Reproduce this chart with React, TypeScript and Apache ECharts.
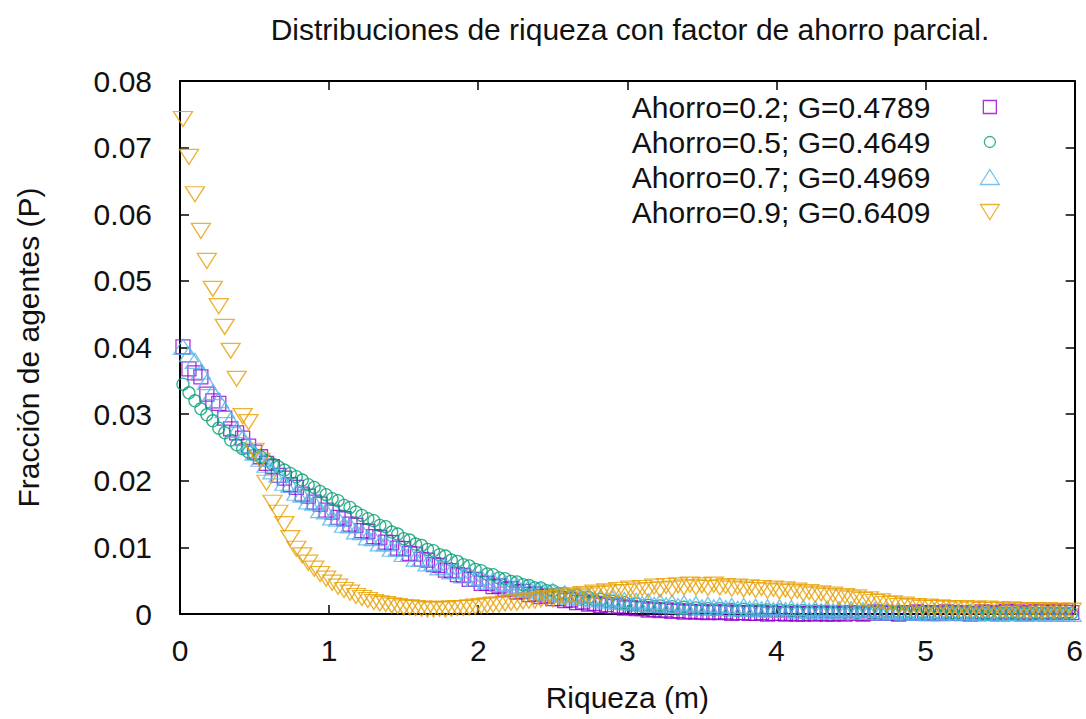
import React, { useEffect, useRef } from 'react';
import * as echarts from 'echarts';

// Bin centres: first bin centre and bin width (in units of m)
const BIN_START = 0.02;
const BIN_WIDTH = 0.04;

const seriesNames = [
  'Ahorro=0.2; G=0.4789',
  'Ahorro=0.5; G=0.4649',
  'Ahorro=0.7; G=0.4969',
  'Ahorro=0.9; G=0.6409',
];

// Fraction of agents (P), in units of 1e-4, one value per bin
const ahorro02 = [
  401, 368, 362, 356, 330, 320, 316, 294, 278, 272,
  264, 252, 243, 236, 226, 221, 208, 204, 194, 190,
  180, 177, 168, 165, 156, 153, 145, 143, 135, 133,
  125, 124, 116, 115, 108, 107, 99, 98, 91, 90,
  82, 81, 74, 73, 66, 65, 59, 58, 52, 52,
  46, 46, 41, 42, 37, 38, 33, 34, 29, 30,
  26, 27, 23, 23, 20, 21, 17, 18, 15, 16,
  13, 14, 11, 12, 9, 10, 8, 8, 6, 7,
  5, 6, 4, 5, 3, 4, 3, 3, 2, 3,
  2, 3, 1, 2, 2, 1, 1, 2, 0, 1,
  1, 0, 1, 0, 0, 1, 0, 1, 0, 0,
  1, 0, 2, 1, 0, 1, 3, 1, 2, 1,
  0, 2, 1, 3, 2, 1, 2, 1, 3, 2,
  1, 2, 0, 1, 3, 2, 1, 2, 4, 2,
  3, 1, 2, 4, 3, 2, 4, 3, 5, 2,
];

const ahorro05 = [
  345, 332, 320, 308, 299, 290, 279, 272, 261, 254,
  248, 243, 239, 236, 230, 225, 221, 216, 211, 206,
  201, 194, 190, 184, 179, 173, 170, 163, 160, 153,
  148, 143, 140, 133, 131, 123, 120, 113, 111, 105,
  103, 97, 95, 89, 87, 81, 79, 74, 72, 67,
  65, 60, 59, 54, 53, 49, 48, 44, 43, 39,
  39, 35, 35, 31, 31, 27, 28, 24, 25, 21,
  22, 19, 19, 16, 17, 14, 15, 12, 13, 11,
  12, 9, 11, 8, 10, 7, 9, 7, 8, 6,
  8, 6, 7, 5, 7, 5, 6, 5, 6, 4,
  6, 4, 5, 4, 5, 3, 5, 4, 4, 3,
  4, 3, 4, 2, 4, 3, 3, 2, 4, 2,
  3, 2, 3, 1, 3, 2, 2, 1, 3, 2,
  2, 1, 3, 1, 2, 2, 1, 2, 1, 2,
  2, 1, 1, 2, 1, 1, 2, 1, 1, 1,
];

const ahorro07 = [
  401, 390, 380, 364, 348, 333, 321, 306, 291, 276,
  264, 253, 242, 233, 224, 214, 209, 197, 194, 182,
  179, 169, 167, 156, 154, 145, 143, 134, 133, 124,
  123, 115, 114, 106, 106, 98, 98, 90, 90, 83,
  83, 76, 77, 70, 71, 64, 65, 58, 60, 53,
  55, 49, 51, 45, 47, 41, 43, 37, 40, 34,
  37, 31, 34, 29, 31, 26, 29, 24, 27, 22,
  25, 20, 23, 18, 21, 17, 20, 15, 19, 14,
  18, 13, 17, 12, 16, 11, 15, 10, 14, 10,
  13, 9, 12, 8, 12, 8, 11, 7, 10, 6,
  10, 6, 9, 5, 9, 5, 8, 4, 8, 4,
  7, 3, 7, 3, 6, 3, 6, 2, 5, 3,
  5, 2, 4, 2, 4, 1, 4, 1, 3, 2,
  3, 1, 3, 1, 2, 1, 2, 0, 2, 1,
  2, 0, 1, 1, 2, 0, 1, 0, 1, 0,
];

const ahorro09 = [
  743, 686, 630, 575, 530, 488, 462, 431, 395, 353,
  297, 288, 245, 230, 197, 167, 152, 135, 114, 98,
  88, 77, 68, 60, 53, 47, 41, 36, 32, 27,
  24, 21, 18, 16, 15, 13, 12, 10, 10, 9,
  8, 7, 7, 8, 7, 8, 9, 9, 10, 11,
  12, 13, 14, 14, 16, 17, 17, 19, 20, 20,
  22, 24, 22, 26, 25, 28, 26, 30, 28, 32,
  30, 34, 32, 36, 33, 38, 35, 39, 36, 41,
  37, 42, 38, 43, 40, 44, 40, 43, 39, 44,
  40, 42, 38, 41, 37, 40, 36, 39, 35, 38,
  34, 37, 33, 35, 31, 33, 29, 31, 27, 29,
  25, 27, 23, 25, 21, 22, 18, 19, 15, 16,
  12, 14, 11, 12, 9, 11, 9, 10, 8, 9,
  7, 9, 7, 8, 6, 8, 6, 7, 5, 7,
  5, 6, 5, 6, 4, 6, 4, 5, 4, 5,
];

const xTicks = [0, 1, 2, 3, 4, 5, 6];
const yTicks = [0, 0.01, 0.02, 0.03, 0.04, 0.05, 0.06, 0.07, 0.08];

const colors = ['#9400D3', '#009E73', '#56B4E9', '#E69F00'];
const INVERTED_TRIANGLE = 'path://M0,0L2,0L1,1.6Z';
const symbols = ['rect', 'circle', 'triangle', INVERTED_TRIANGLE];
const symbolSizes: any[] = [14, 12, [19, 15], [19, 15]];
// Legend icons drawn inside a 19x15 box (invisible move-to points keep the box)
const legendIcons = [
  'path://M0,0M19,15M3,1L16,1L16,14L3,14Z',
  'path://M0,0M19,15M15,7.5A5.5,5.5,0,1,1,4,7.5A5.5,5.5,0,1,1,15,7.5Z',
  'triangle',
  INVERTED_TRIANGLE,
];
const seriesValues = [ahorro02, ahorro05, ahorro07, ahorro09];

const FONT = '"Liberation Sans", Arial, Helvetica, sans-serif';
const TEXT_COLOR = '#111';

function toPoints(vals: number[]) {
  return vals.map((v, i) => [Number((BIN_START + i * BIN_WIDTH).toFixed(2)), v / 10000]);
}

export default function App() {
  const ref = useRef<HTMLDivElement>(null);

  useEffect(() => {
    if (!ref.current) return;
    const chart = echarts.init(ref.current, undefined, { renderer: 'svg' });

    const axisCommonX = {
      type: 'value',
      min: xTicks[0],
      max: xTicks[xTicks.length - 1],
      interval: 1,
      splitLine: { show: false },
      axisLine: { show: true, onZero: false, lineStyle: { color: '#000', width: 2 } },
      axisTick: { show: true, inside: true, length: 9, lineStyle: { color: '#000', width: 1.5 } },
    };
    const axisCommonY = {
      type: 'value',
      min: yTicks[0],
      max: yTicks[yTicks.length - 1],
      interval: 0.01,
      splitLine: { show: false },
      axisLine: { show: true, onZero: false, lineStyle: { color: '#000', width: 2 } },
      axisTick: { show: true, inside: true, length: 9, lineStyle: { color: '#000', width: 1.5 } },
    };

    const option: any = {
      animation: false,
      backgroundColor: '#ffffff',
      color: colors,
      title: {
        text: 'Distribuciones de riqueza con factor de ahorro parcial.',
        left: 625,
        top: 9,
        textAlign: 'center',
        textStyle: { fontFamily: FONT, fontSize: 30, fontWeight: 'normal', color: TEXT_COLOR },
      },
      grid: { left: 180, right: 9, top: 81, bottom: 105 },
      legend: {
        orient: 'vertical',
        right: 81,
        top: 87,
        align: 'right',
        itemWidth: 19,
        itemHeight: 15,
        itemGap: 5,
        selectedMode: false,
        textStyle: {
          fontFamily: FONT,
          fontSize: 30,
          color: TEXT_COLOR,
          lineHeight: 30,
          padding: [0, 45, 0, 0],
        },
        data: seriesNames.map((n, i) => ({
          name: n,
          icon: legendIcons[i],
          itemStyle: { color: 'transparent', borderColor: colors[i], borderWidth: 1.3 },
        })),
      },
      xAxis: [
        {
          ...axisCommonX,
          position: 'bottom',
          name: 'Riqueza (m)',
          nameLocation: 'middle',
          nameGap: 68,
          nameTextStyle: { fontFamily: FONT, fontSize: 30, color: TEXT_COLOR },
          axisLabel: { margin: 21, fontFamily: FONT, fontSize: 30, color: TEXT_COLOR },
        },
        { ...axisCommonX, position: 'top', axisLabel: { show: false } },
      ],
      yAxis: [
        {
          ...axisCommonY,
          position: 'left',
          name: 'Fracción de agentes (P)',
          nameLocation: 'middle',
          nameGap: 137,
          nameTextStyle: { fontFamily: FONT, fontSize: 30, color: TEXT_COLOR },
          axisLabel: { margin: 28, fontFamily: FONT, fontSize: 30, color: TEXT_COLOR },
        },
        { ...axisCommonY, position: 'right', axisLabel: { show: false } },
      ],
      series: seriesNames.map((n, i) => ({
        type: 'scatter',
        name: n,
        xAxisIndex: 0,
        yAxisIndex: 0,
        data: toPoints(seriesValues[i]),
        symbol: symbols[i],
        symbolSize: symbolSizes[i],
        itemStyle: { color: 'transparent', borderColor: colors[i], borderWidth: 1.3 },
        emphasis: { disabled: true },
      })),
    };

    chart.setOption(option);
    return () => chart.dispose();
  }, []);

  return (
    <div
      ref={ref}
      style={{ position: 'absolute', left: 0, top: 0, width: 1086, height: 719 }}
    />
  );
}
